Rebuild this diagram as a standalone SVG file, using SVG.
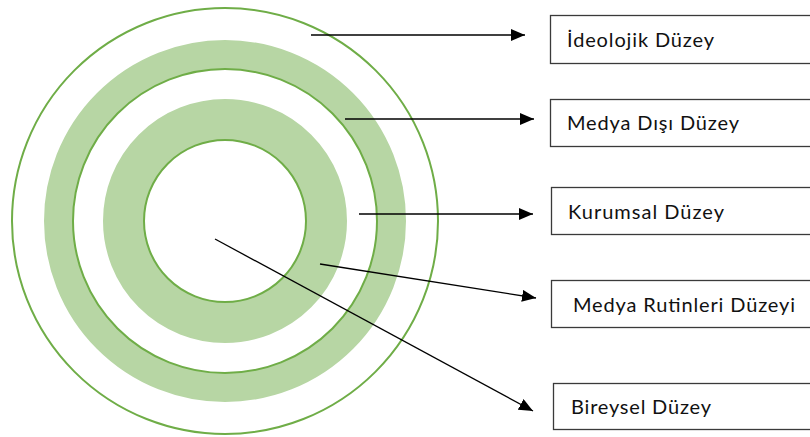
<svg xmlns="http://www.w3.org/2000/svg" width="810" height="437" viewBox="0 0 810 437">
  <defs>
    <style>
      .band { fill: none; stroke: #B7D6A4; }
      .ring { fill: none; stroke: #6FAD47; stroke-width: 2; }
      .box { fill: #FFFFFF; stroke: #3A3A3A; stroke-width: 1.3; }
      .lbl { font-family: Lato, "Open Sans", "Liberation Sans", sans-serif; font-size: 20px; fill: #111111; }
      .conn { stroke: #000000; stroke-width: 1.3; fill: none; marker-end: url(#arrow); }
    </style>
    <marker id="arrow" markerUnits="userSpaceOnUse" markerWidth="14" markerHeight="12" viewBox="0 0 14 12" refX="14" refY="6" orient="auto">
      <path d="M0,0 L14,6 L0,12 Z" fill="#000000"/>
    </marker>
  </defs>
  <rect width="810" height="437" fill="#FFFFFF"/>
  <g id="circles">
    <circle class="band" cx="225" cy="221" r="166.5" stroke-width="29"/>
    <circle class="band" cx="225" cy="221" r="101.5" stroke-width="41"/>
    <circle class="ring" cx="225" cy="221" r="213"/>
    <circle class="ring" cx="225" cy="221" r="152"/>
    <circle class="ring" cx="225" cy="221" r="81"/>
  </g>
  <g id="connectors">
    <line class="conn" x1="311" y1="35" x2="525" y2="35"/>
    <line class="conn" x1="345" y1="119" x2="534" y2="119"/>
    <line class="conn" x1="359" y1="214" x2="533" y2="214"/>
    <line class="conn" x1="320" y1="264" x2="536" y2="298"/>
    <line class="conn" x1="215" y1="239" x2="533" y2="411"/>
  </g>
  <g id="node-ideolojik">
    <rect class="box" x="550.5" y="15.5" width="270" height="48"/>
    <text class="lbl" x="567" y="47" textLength="147" lengthAdjust="spacing">İdeolojik Düzey</text>
  </g>
  <g id="node-medya-disi">
    <rect class="box" x="550.5" y="99.5" width="270" height="47"/>
    <text class="lbl" x="567" y="130" textLength="172" lengthAdjust="spacing">Medya Dışı Düzey</text>
  </g>
  <g id="node-kurumsal">
    <rect class="box" x="551.5" y="187.5" width="270" height="47"/>
    <text class="lbl" x="568" y="219" textLength="156" lengthAdjust="spacing">Kurumsal Düzey</text>
  </g>
  <g id="node-medya-rutinleri">
    <rect class="box" x="551.5" y="280.5" width="270" height="47"/>
    <text class="lbl" x="573" y="312" textLength="222" lengthAdjust="spacing">Medya Rutinleri Düzeyi</text>
  </g>
  <g id="node-bireysel">
    <rect class="box" x="553.5" y="383.5" width="270" height="46"/>
    <text class="lbl" x="571" y="414" textLength="140" lengthAdjust="spacing">Bireysel Düzey</text>
  </g>
</svg>
